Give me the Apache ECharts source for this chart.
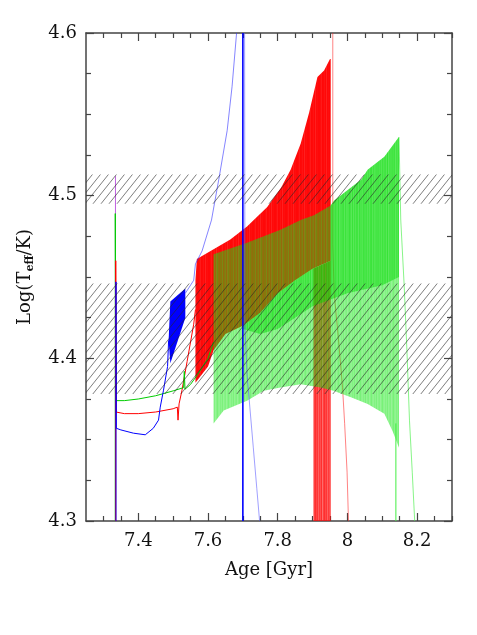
<!DOCTYPE html>
<html>
<head>
<meta charset="utf-8">
<script src="https://cdn.jsdelivr.net/npm/echarts@6/dist/echarts.min.js"></script>
<style>
  html, body { margin: 0; padding: 0; background: #fff; }
  #chart { width: 477px; height: 635px; }
</style>
</head>
<body>
<div id="chart"></div>
<script>
// axis ticks
var xMajor = [7.4, 7.6, 7.8, 8.0, 8.2];
var xMinor = [7.3, 7.35, 7.45, 7.5, 7.55, 7.65, 7.7, 7.75, 7.85, 7.9, 7.95, 8.05, 8.1, 8.15, 8.25, 8.3];
var yMajor = [4.3, 4.4, 4.5, 4.6];
var yMinor = [4.325, 4.35, 4.375, 4.425, 4.45, 4.475, 4.525, 4.55, 4.575];

// hatched bands [low, high]
var hatchBands = [[4.495, 4.513], [4.378, 4.446]];

// red model: pulse band envelopes + thin tracks
var redUpper = [[7.564,4.448],[7.568,4.461],[7.616,4.467],[7.664,4.473],[7.712,4.481],[7.77,4.493],[7.81,4.505],[7.837,4.516],[7.866,4.532],[7.89,4.551],[7.914,4.573],[7.933,4.577],[7.95,4.584],[7.952,4.584]];
var redLower = [[7.564,4.385],[7.60,4.395],[7.616,4.405],[7.65,4.415],[7.70,4.42],[7.75,4.428],[7.80,4.44],[7.85,4.448],[7.90,4.455],[7.952,4.46]];
var redColUpper = [[7.902,4.455],[7.952,4.46]];
var redColLower = [[7.902,4.3],[7.952,4.3]];
var redTrack = [[7.335,4.3],[7.335,4.46],[7.336,4.367],[7.36,4.366],[7.40,4.366],[7.45,4.367],[7.50,4.369],[7.512,4.370],[7.514,4.362],[7.517,4.372],[7.525,4.38],[7.54,4.398],[7.559,4.421],[7.564,4.43]];
var redTail = [[7.958,4.6],[7.958,4.47],[7.962,4.44],[7.975,4.41],[7.986,4.382],[7.992,4.36],[7.999,4.33],[8.003,4.3]];

// green model
var greenUpper = [[7.616,4.464],[7.712,4.471],[7.808,4.479],[7.866,4.485],[7.904,4.488],[7.952,4.494],[7.962,4.497],[8.04,4.51],[8.058,4.516],[8.106,4.524],[8.144,4.535],[8.148,4.536]];
var greenLower = [[7.616,4.36],[7.645,4.368],[7.712,4.374],[7.76,4.38],[7.808,4.382],[7.866,4.384],[7.923,4.382],[7.96,4.38],[8.01,4.376],[8.058,4.372],[8.106,4.366],[8.13,4.355],[8.148,4.345]];
// denser green part not covered by red
var greenDenseUpper = [[7.70,4.42],[7.75,4.428],[7.80,4.44],[7.85,4.448],[7.90,4.455],[7.952,4.46],[7.952,4.494],[7.962,4.497],[8.04,4.51],[8.058,4.516],[8.106,4.524],[8.144,4.535],[8.148,4.536]];
var greenDenseLower = [[7.70,4.418],[7.75,4.415],[7.80,4.418],[7.85,4.425],[7.90,4.432],[8.00,4.44],[8.10,4.445],[8.148,4.45]];
var greenTrack = [[7.334,4.3],[7.334,4.489],[7.336,4.374],[7.36,4.374],[7.40,4.375],[7.45,4.377],[7.50,4.38],[7.53,4.382],[7.532,4.392],[7.534,4.381],[7.55,4.384],[7.57,4.39],[7.60,4.40],[7.616,4.41]];
var greenTail = [[8.148,4.536],[8.153,4.485],[8.163,4.444],[8.171,4.403],[8.178,4.362],[8.186,4.33],[8.193,4.3]];
var greenDrop = [[8.139,4.36],[8.139,4.3]];

// blue model
var blueTrack = [[7.336,4.3],[7.336,4.447],[7.337,4.357],[7.35,4.356],[7.386,4.354],[7.42,4.353],[7.443,4.357],[7.458,4.362],[7.463,4.37],[7.472,4.38],[7.484,4.395],[7.487,4.411]];
var blueBlob = [[7.487,4.411],[7.492,4.435],[7.535,4.443],[7.535,4.425],[7.492,4.397]];
var blueRise = [[7.535,4.44],[7.541,4.442],[7.559,4.448],[7.564,4.458],[7.583,4.466],[7.61,4.485],[7.631,4.51],[7.655,4.54],[7.669,4.567],[7.682,4.6]];
var blueDrop = [[7.700,4.6],[7.700,4.3]];
var blueTail = [[7.705,4.6],[7.706,4.42],[7.712,4.39],[7.72,4.37],[7.73,4.345],[7.74,4.32],[7.748,4.3]];

// violet model (left spike)
var violetLine = [[7.3345,4.3],[7.3345,4.512]];

var FONT = 'DejaVu Serif';
var AXIS = '#444';

// hatch tile
var tile = document.createElement('canvas');
tile.width = 8; tile.height = 10;
var tctx = tile.getContext('2d');
tctx.strokeStyle = 'rgba(40,40,40,0.8)';
tctx.lineWidth = 0.75;
[-8, 0, 8].forEach(function (o) {
  tctx.beginPath(); tctx.moveTo(o, 10); tctx.lineTo(o + 8, 0); tctx.stroke();
});

// soft vertical streaks for the pulse bands
function stripes(rgb, alphas) {
  var c = document.createElement('canvas');
  c.width = alphas.length; c.height = 4;
  var g = c.getContext('2d');
  alphas.forEach(function (a, i) { g.fillStyle = 'rgba(' + rgb + ',' + a + ')'; g.fillRect(i, 0, 1, 4); });
  return { image: c, repeat: 'repeat' };
}
var redFill = stripes('255,0,0', [0.97, 0.95, 0.9, 0.97, 0.96, 0.93, 0.97, 0.88, 0.96, 0.95, 0.97]);
var redColFill = stripes('255,10,10', [0.85, 0.75, 0.82, 0.65, 0.8, 0.72, 0.85, 0.6, 0.78]);
var greenFill = stripes('15,230,15', [0.52, 0.47, 0.55, 0.45, 0.5, 0.53, 0.44, 0.5, 0.56, 0.48, 0.46]);
var greenDenseFill = stripes('0,215,0', [0.5, 0.4, 0.55, 0.38, 0.48, 0.44, 0.52]);

function band(name, upper, lower, fill, z) {
  var pts = upper.concat(lower.slice().reverse());
  return {
    name: name, type: 'custom', z: z, silent: true, clip: true,
    data: pts,
    renderItem: function (params, api) {
      if (params.dataIndex !== 0) return null;
      var poly = pts.map(function (p) { return api.coord(p); });
      return { type: 'polygon', shape: { points: poly }, style: { fill: fill } };
    }
  };
}

function track(name, data, color, width, z, opacity) {
  return {
    name: name, type: 'line', data: data, z: z, silent: true,
    showSymbol: false, symbol: 'none', clip: true,
    lineStyle: { color: color, width: width, opacity: opacity == null ? 1 : opacity }
  };
}

function xAx(pos, vals, len, label, line) {
  return {
    type: 'value', position: pos, min: 7.25, max: 8.3,
    axisLine: { show: line, onZero: false, lineStyle: { color: AXIS, width: 1.5 } },
    axisTick: { show: true, inside: true, length: len, customValues: vals, lineStyle: { color: AXIS, width: 1.2 } },
    axisLabel: { show: label, customValues: vals, margin: 11, color: '#111', fontFamily: FONT, fontSize: 18,
      formatter: function (v) { return String(Math.round(v * 10) / 10); } },
    splitLine: { show: false }
  };
}
function yAx(pos, vals, len, label, line) {
  return {
    type: 'value', position: pos, min: 4.3, max: 4.6,
    axisLine: { show: line, onZero: false, lineStyle: { color: AXIS, width: 1.5 } },
    axisTick: { show: true, inside: true, length: len, customValues: vals, lineStyle: { color: AXIS, width: 1.2 } },
    axisLabel: { show: label, customValues: vals, margin: 9, color: '#111', fontFamily: FONT, fontSize: 18,
      formatter: function (v) { return String(Math.round(v * 10) / 10); } },
    splitLine: { show: false }
  };
}

var xBottom = xAx('bottom', xMajor, 8, true, true);
xBottom.name = 'Age [Gyr]';
xBottom.nameLocation = 'middle';
xBottom.nameGap = 40;
xBottom.nameTextStyle = { color: '#111', fontFamily: FONT, fontSize: 18 };

var yLeft = yAx('left', yMajor, 8, true, true);
yLeft.name = '{a|Log(T}{b|eff}{a|/K)}';
yLeft.nameLocation = 'middle';
yLeft.nameGap = 50;
yLeft.nameTextStyle = { rich: {
  a: { color: '#111', fontFamily: FONT, fontSize: 18 },
  b: { color: '#111', fontFamily: FONT, fontSize: 11, fontWeight: 'bold', padding: [10, 0, 0, 0] }
} };

var chart = echarts.init(document.getElementById('chart'), null, { renderer: 'canvas' });
chart.setOption({
  animation: false,
  backgroundColor: '#fff',
  grid: { left: 86, right: 25, top: 33, bottom: 114 },
  xAxis: [xBottom, xAx('bottom', xMinor, 5, false, false), xAx('top', xMajor, 8, false, true), xAx('top', xMinor, 5, false, false)],
  yAxis: [yLeft, yAx('left', yMinor, 5, false, false), yAx('right', yMajor, 8, false, true), yAx('right', yMinor, 5, false, false)],
  series: [
    band('red band', redUpper, redLower, redFill, 1),
    band('red columns', redColUpper, redColLower, redColFill, 1),
    track('red track', redTrack, '#ff0000', 1, 2),
    track('red tail', redTail, '#ff2020', 0.8, 2, 0.7),
    band('green band', greenUpper, greenLower, greenFill, 3),
    band('green dense', greenDenseUpper, greenDenseLower, greenDenseFill, 3),
    track('violet', violetLine, '#c060e0', 1, 4),
    track('green track', greenTrack, '#00cc00', 1, 4),
    track('green tail', greenTail, '#44ee44', 0.8, 4, 0.8),
    track('green drop', greenDrop, '#44ee44', 1, 4),
    track('red left', redTrack.slice(0, 3), '#ff0000', 1, 4),
    track('blue track', blueTrack, '#0000ff', 1, 5),
    band('blue blob', blueBlob, [], '#0000ff', 5),
    track('blue rise', blueRise, '#3333ff', 0.8, 5, 0.75),
    track('blue drop', blueDrop, '#0000ff', 1.6, 5),
    track('blue tail', blueTail, '#5555ff', 0.8, 5, 0.7),
    {
      name: 'hatch', type: 'custom', z: 8, silent: true, clip: true,
      data: hatchBands,
      encode: { y: [0, 1] },
      renderItem: function (params, api) {
        var cs = params.coordSys;
        var top = api.coord([7.25, api.value(1)])[1];
        var bot = api.coord([7.25, api.value(0)])[1];
        return { type: 'rect', shape: { x: cs.x, y: top, width: cs.width, height: bot - top },
          style: { fill: { image: tile, repeat: 'repeat' } } };
      }
    }
  ]
});
</script>
</body>
</html>
